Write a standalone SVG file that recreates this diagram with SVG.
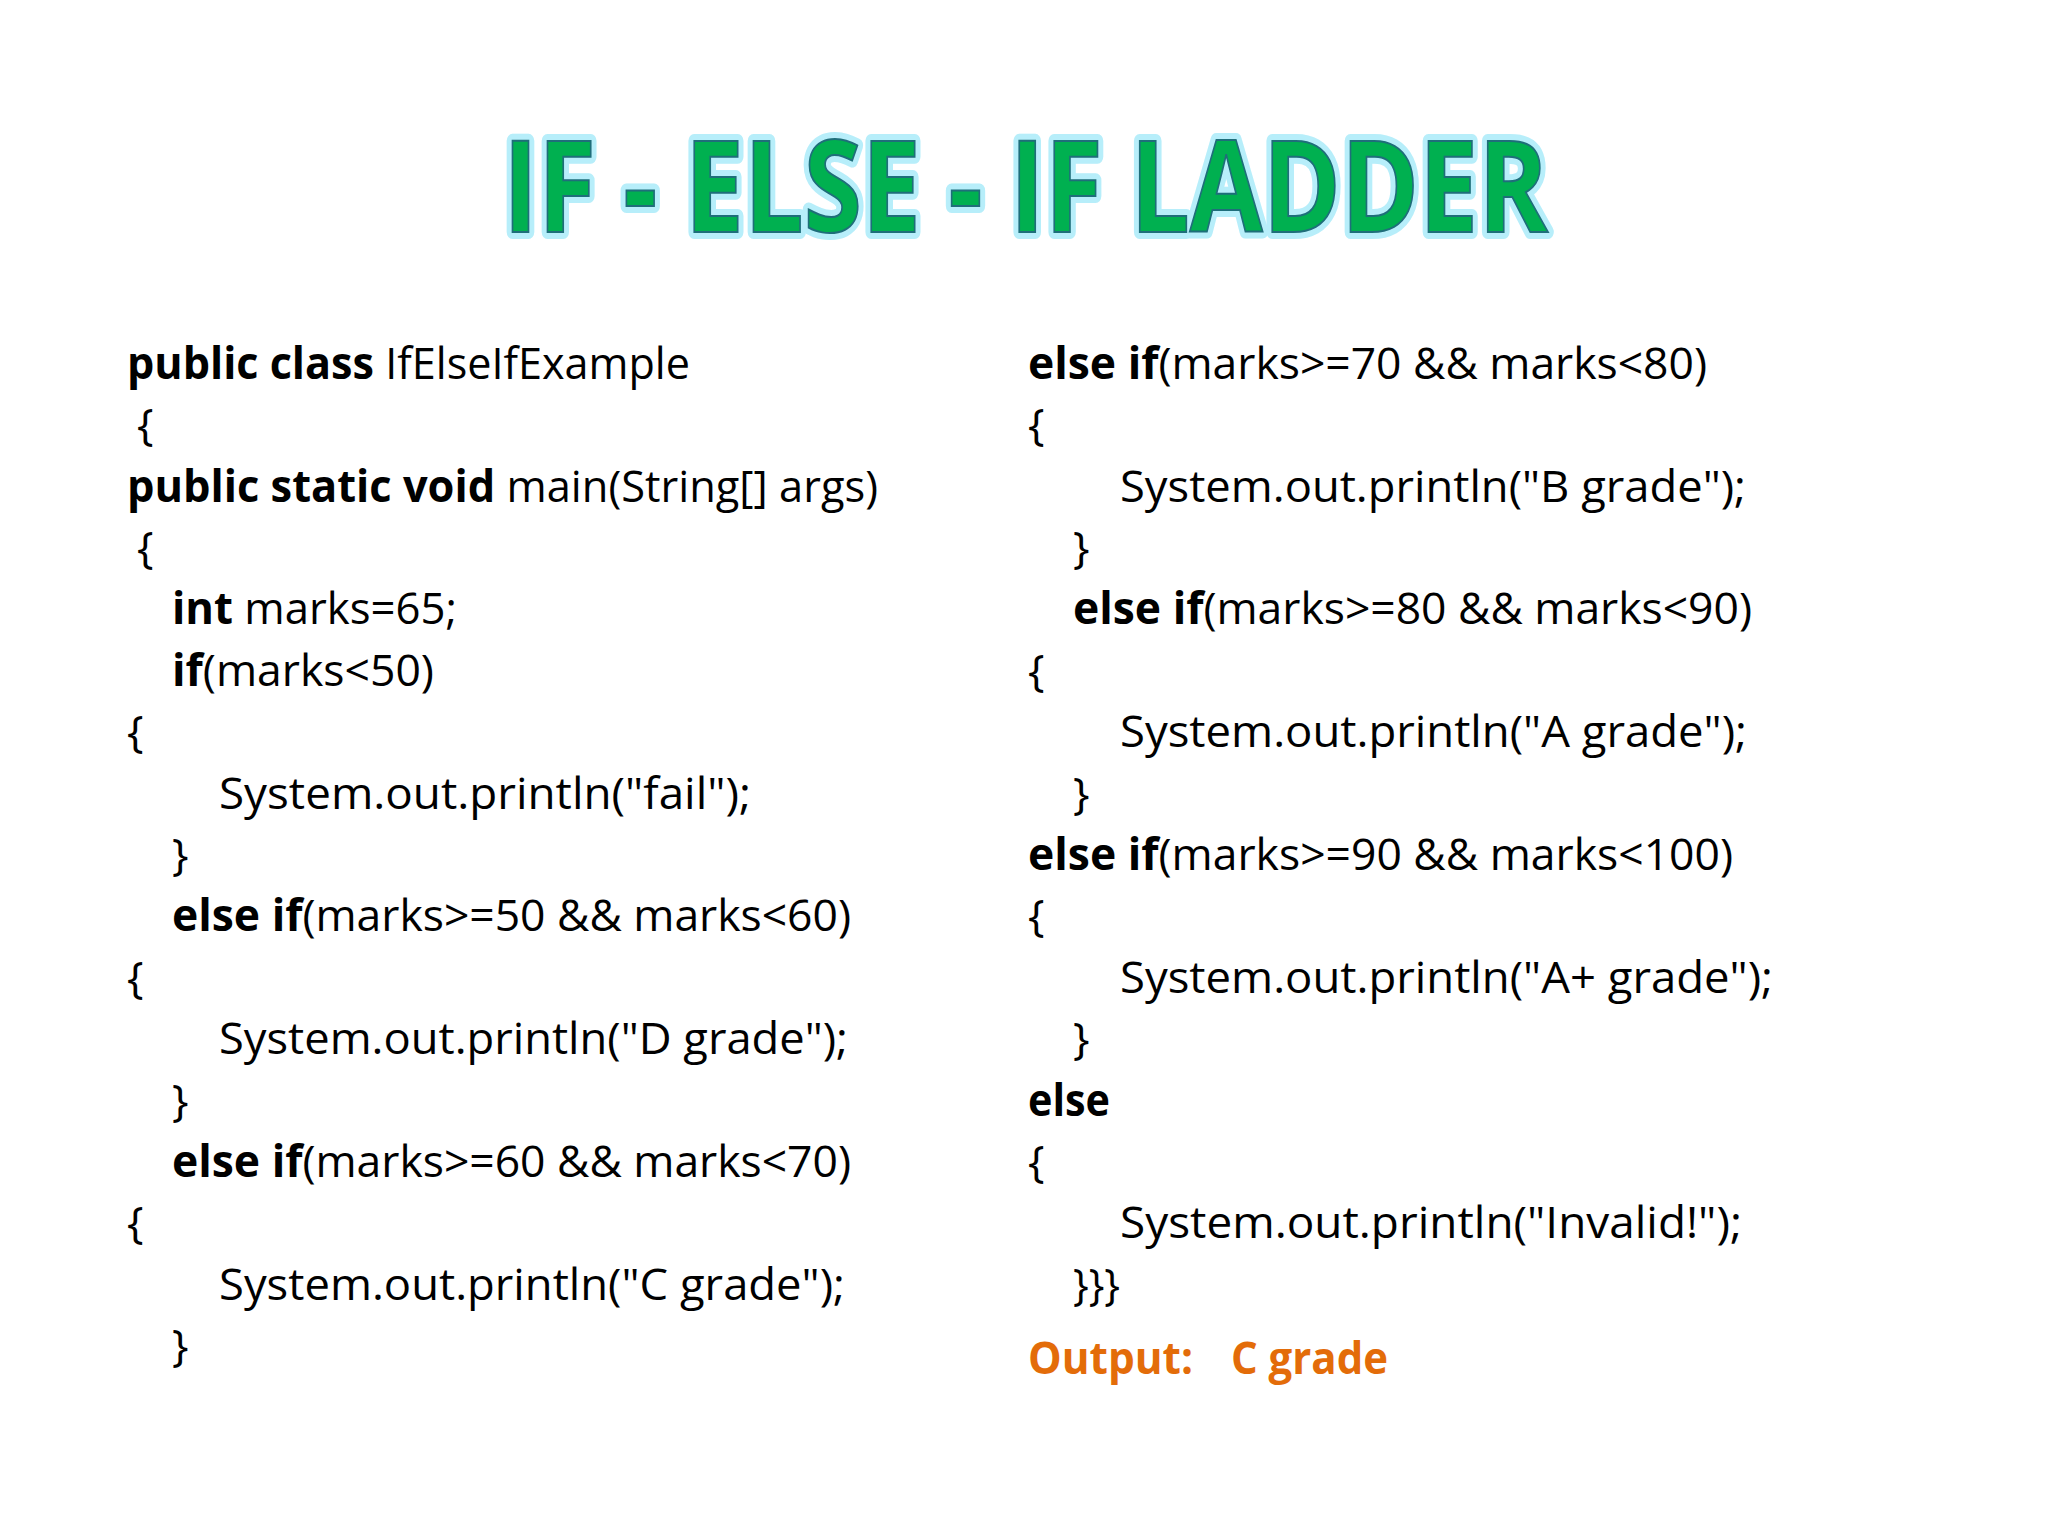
<svg xmlns="http://www.w3.org/2000/svg" width="2048" height="1536" viewBox="0 0 2048 1536">
<style>
.c{font-family:"Open Sans","Noto Sans",sans-serif;font-size:44px;fill:#000}
.b{font-weight:bold}
.o{font-family:"Open Sans","Noto Sans",sans-serif;font-size:44px;font-weight:bold;fill:#E36C09}
.t{font-family:"Open Sans","Liberation Sans",sans-serif;font-size:128px;font-weight:bold}
</style>
<rect width="2048" height="1536" fill="#fff"/>
<g id="title">
<text class="t" x="503" y="232" textLength="1045" lengthAdjust="spacingAndGlyphs" fill="none" stroke="#B7EEFA" stroke-width="14" stroke-linejoin="round">IF - ELSE - IF LADDER</text>
<text class="t" x="503" y="232" textLength="1045" lengthAdjust="spacingAndGlyphs" fill="#00B050" stroke="#1F6E7A" stroke-width="2">IF - ELSE - IF LADDER</text>
</g>
<g id="left">
<text class="c" x="127" y="379" textLength="563" lengthAdjust="spacingAndGlyphs"><tspan class="b">public class</tspan> IfElseIfExample</text>
<text class="c" x="137" y="440">{</text>
<text class="c" x="127" y="502" textLength="751" lengthAdjust="spacingAndGlyphs"><tspan class="b">public static void</tspan> main(String[] args)</text>
<text class="c" x="137" y="563">{</text>
<text class="c" x="172" y="624" textLength="285" lengthAdjust="spacingAndGlyphs"><tspan class="b">int</tspan> marks=65;</text>
<text class="c" x="172" y="686" textLength="262" lengthAdjust="spacingAndGlyphs"><tspan class="b">if</tspan>(marks&lt;50)</text>
<text class="c" x="127" y="747">{</text>
<text class="c" x="219" y="809" textLength="532" lengthAdjust="spacingAndGlyphs">System.out.println("fail");</text>
<text class="c" x="172" y="870">}</text>
<text class="c" x="172" y="931" textLength="679" lengthAdjust="spacingAndGlyphs"><tspan class="b">else if</tspan>(marks&gt;=50 &amp;&amp; marks&lt;60)</text>
<text class="c" x="127" y="993">{</text>
<text class="c" x="219" y="1054" textLength="629" lengthAdjust="spacingAndGlyphs">System.out.println("D grade");</text>
<text class="c" x="172" y="1116">}</text>
<text class="c" x="172" y="1177" textLength="679" lengthAdjust="spacingAndGlyphs"><tspan class="b">else if</tspan>(marks&gt;=60 &amp;&amp; marks&lt;70)</text>
<text class="c" x="127" y="1238">{</text>
<text class="c" x="219" y="1300" textLength="626" lengthAdjust="spacingAndGlyphs">System.out.println("C grade");</text>
<text class="c" x="172" y="1361">}</text>
</g>
<g id="right">
<text class="c" x="1028" y="379" textLength="679" lengthAdjust="spacingAndGlyphs"><tspan class="b">else if</tspan>(marks&gt;=70 &amp;&amp; marks&lt;80)</text>
<text class="c" x="1028" y="440">{</text>
<text class="c" x="1120" y="502" textLength="626" lengthAdjust="spacingAndGlyphs">System.out.println("B grade");</text>
<text class="c" x="1073" y="563">}</text>
<text class="c" x="1073" y="624" textLength="679" lengthAdjust="spacingAndGlyphs"><tspan class="b">else if</tspan>(marks&gt;=80 &amp;&amp; marks&lt;90)</text>
<text class="c" x="1028" y="686">{</text>
<text class="c" x="1120" y="747" textLength="627" lengthAdjust="spacingAndGlyphs">System.out.println("A grade");</text>
<text class="c" x="1073" y="809">}</text>
<text class="c" x="1028" y="870" textLength="705" lengthAdjust="spacingAndGlyphs"><tspan class="b">else if</tspan>(marks&gt;=90 &amp;&amp; marks&lt;100)</text>
<text class="c" x="1028" y="931">{</text>
<text class="c" x="1120" y="993" textLength="653" lengthAdjust="spacingAndGlyphs">System.out.println("A+ grade");</text>
<text class="c" x="1073" y="1054">}</text>
<text class="c b" x="1028" y="1116" textLength="82" lengthAdjust="spacingAndGlyphs">else</text>
<text class="c" x="1028" y="1177">{</text>
<text class="c" x="1120" y="1238" textLength="622" lengthAdjust="spacingAndGlyphs">System.out.println("Invalid!");</text>
<text class="c" x="1073" y="1300" textLength="47" lengthAdjust="spacingAndGlyphs">}}}</text>
<text class="o" x="1028" y="1374" textLength="165" lengthAdjust="spacingAndGlyphs">Output:</text>
<text class="o" x="1231" y="1374" textLength="157" lengthAdjust="spacingAndGlyphs">C grade</text>
</g>
</svg>
